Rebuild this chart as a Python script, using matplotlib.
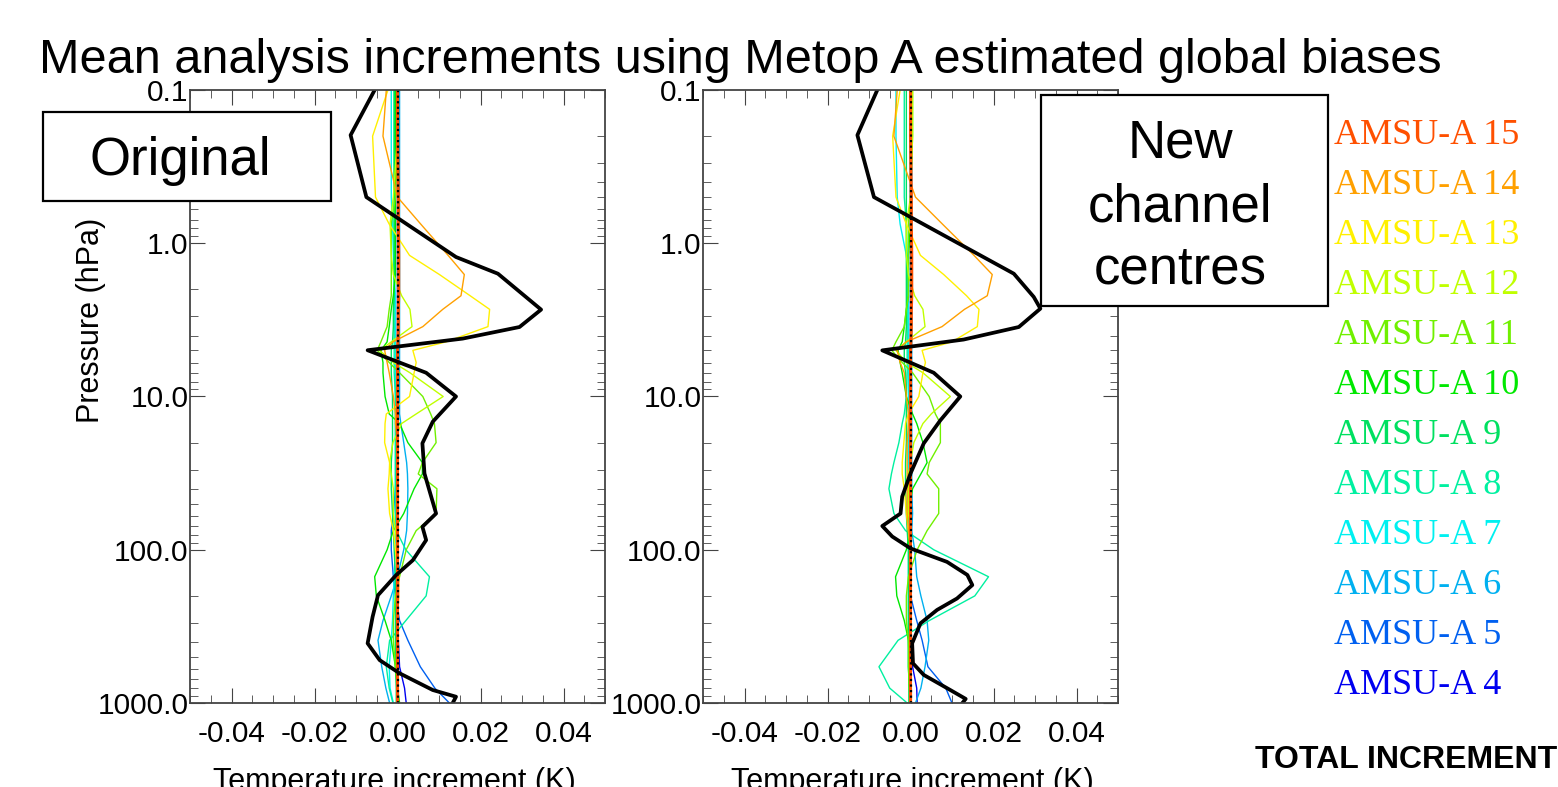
import matplotlib.pyplot as plt
from matplotlib.patches import Rectangle
from matplotlib.ticker import MultipleLocator, LogLocator, NullFormatter

plt.rcParams['font.family'] = ['Liberation Sans', 'DejaVu Sans']
plt.rcParams['axes.unicode_minus'] = False

W, H = 1558, 787

# pressure levels (hPa) of the per-channel curves
p_levels = [0.1, 0.2, 0.5, 0.75, 1.2, 1.6, 2.2, 2.7, 3.5, 4.4, 5.0, 6.0, 7.0, 10, 13, 15,
            20, 27, 32, 40, 58, 75, 100, 150, 200, 290, 390, 580, 800, 1000]

channels = [15, 14, 13, 12, 11, 10, 9, 8, 7, 6, 5, 4]
colors = {15: '#ff5000', 14: '#ffa000', 13: '#fff000', 12: '#c0ff00', 11: '#70f000',
          10: '#00e800', 9: '#00e060', 8: '#00f0a0', 7: '#00f0f0', 6: '#00b0f0',
          5: '#0060f0', 4: '#0000f0'}

# increments in mK, original biases
orig_inc = {
    15: [0, 0, 0.2, 0.2, 0.3, 0.3, 0.3, 0.2, 0.2, 0.1, 0, 0, 0, 0, 0, 0, 0, 0, 0, 0, 0, 0, 0, 0, 0, 0, 0, 0, 0, 0],
    14: [-2.7, -3.5, 0.0, 5.6, 12.2, 16.1, 15.3, 10.9, 6.1, -1.1, -3.1, -2.5, -2.0, -1.0, -0.5, -0.5, 0, 0, 0, 0, 0, 0, 0, 0.3, 0.3, 0, 0, 0, 0, 0],
    13: [-2.3, -6.0, -5.3, -2.0, 2.9, 10.1, 17.5, 22.2, 21.8, 11.7, 3.7, 4.5, 4.0, 2.9, -2.7, -3.0, -3.1, -1.9, -2.0, -2.3, -1.9, -1.0, -0.5, 0, 0, 0, 0, 0, 0, 0],
    12: [0, 0, -1.0, -1.8, -1.5, -1.0, 1.0, 3.0, 3.5, -1.5, -4.3, -1.0, 3.0, 11.0, 4.5, 1.0, -1.1, -1.9, -1.5, -1.0, -1.0, -0.5, 0, 0, 0, 0, 0, 0, 0, 0],
    11: [0, 0, -0.5, -1.5, -1.5, -1.5, -1.5, -2.0, -2.5, -4.0, -4.9, -2.0, 0.5, 6.1, 8.0, 8.9, 9.3, 6.0, 5.0, 9.5, 9.3, 4.5, 2.1, 0.5, -0.5, -1.0, -1.0, -0.5, 0, 0],
    10: [-0.5, -0.5, -0.5, -0.5, -0.5, -0.5, -1.0, -1.5, -2.0, -2.5, -4.0, -3.5, -3.5, -3.0, -2.0, 0.5, 2.5, 6.0, 6.0, 4.0, 1.5, -1.0, -2.5, -5.5, -5.1, -3.0, -1.5, -0.5, 0, 0.5],
    9: [-0.8, -0.8, -0.8, -0.8, -0.8, -0.8, -0.8, -1.0, -1.0, -1.2, -1.5, -1.5, -1.5, -1.2, -1.2, -1.2, -1.2, -1.5, -1.5, -1.5, -1.2, -1.0, -0.8, -0.5, -0.5, -0.5, -0.5, -0.5, -0.3, -0.3],
    8: [-0.8, -0.8, -0.8, -0.8, -0.8, -0.8, -0.8, -0.8, -0.8, -0.8, -0.8, -0.8, -0.8, -0.5, -0.5, -0.5, -0.5, -0.5, -0.5, -0.5, -0.5, -0.3, 2.0, 7.7, 6.9, 2.0, -1.9, -2.7, -2.0, -1.1],
    7: [-1.5, -1.5, -1.5, -1.2, -1.0, -0.8, -0.5, -0.5, -0.5, -0.5, -0.5, -0.5, -0.5, -0.5, -0.5, -0.5, -0.5, -0.5, -0.5, -0.5, -0.5, -0.5, -0.5, -0.8, -1.0, -1.2, -1.5, -2.0, -1.8, -1.0],
    6: [0.5, 0.5, 0.5, 0.5, 0.5, 0.5, 0.5, 0.5, 0.5, 0.5, 0.5, 0.5, 0.5, 0.5, 0.5, 0.8, 1.5, 2.2, 2.4, 2.5, 2.4, 2.2, 1.5, 0.0, -1.5, -3.5, -4.7, -3.8, -2.8, -1.9],
    5: [0, 0, 0, 0, 0, 0, 0, 0, 0, 0, 0, 0, 0, 0, 0, 0, 0, 0, -0.3, -0.5, -1.0, -1.5, -1.5, -1.0, -0.5, 0.5, 2.5, 5.5, 9.0, 12.5],
    4: [0, 0, 0, 0, 0, 0, 0, 0, 0, 0, 0, 0, 0, 0, 0, 0, 0, 0, 0, 0, 0, 0, 0, 0, 0, 0, 0.2, 0.5, 1.7, 2.1],
}

# increments in mK, new channel centres
new_inc = {
    15: [0, 0, 0.2, 0.2, 0.3, 0.3, 0.3, 0.2, 0.2, 0.1, 0, 0, 0, 0, 0, 0, 0, 0, 0, 0, 0, 0, 0, 0, 0, 0, 0, 0, 0, 0],
    14: [-3.2, -4.0, 1.2, 7.7, 15.3, 19.7, 18.5, 13.0, 7.6, -1.0, -3.2, -2.5, -1.5, -1.0, -0.5, -0.5, -0.8, -0.8, -0.8, -0.8, -0.8, -0.5, 0, 0, 0, 0, 0, 0, 0, 0],
    13: [-2.5, -4.3, -3.5, -1.0, 2.4, 8.0, 13.5, 16.5, 16.1, 10.0, 2.8, 3.6, 3.0, 2.0, -0.5, -1.2, -1.6, -2.0, -2.0, -1.5, -1.0, -0.5, 0, 0, 0, 0, 0, 0, 0, 0],
    12: [0.5, 0.5, 0, -1.0, -1.0, -0.5, 1.0, 3.0, 3.5, -1.0, -3.5, -1.0, 3.0, 9.6, 5.0, 3.0, 0.8, 0, -0.5, -0.5, -0.5, 0, 0, 0, 0, 0, 0, 0, 0, 0],
    11: [0.5, 0.5, 0, -0.5, -0.5, -0.5, -0.5, -1.0, -1.5, -3.5, -4.5, -2.0, 0.5, 4.5, 6.0, 7.2, 7.2, 4.5, 4.0, 6.8, 6.8, 4.0, 1.6, -0.5, -1.0, -1.0, -0.5, -0.5, -0.3, 0],
    10: [0, 0, 0, 0, -0.5, -0.5, -0.5, -1.0, -1.5, -2.0, -3.0, -2.5, -2.0, -1.0, 0.5, 1.5, 3.0, 4.0, 2.5, 0.5, -0.5, 0, -1.0, -3.6, -3.3, -1.5, -0.5, -0.3, -0.3, -0.3],
    9: [-1.0, -1.0, -1.0, -1.0, -1.0, -1.0, -1.0, -1.0, -1.0, -1.2, -1.5, -1.5, -1.2, -1.0, -1.0, -1.0, -1.0, -1.2, -1.2, -1.2, -1.0, -0.8, -0.5, -0.5, -0.5, -0.5, -0.5, -0.5, -0.3, -0.3],
    8: [-1.5, -1.5, -1.5, -1.0, -0.8, -0.8, -0.8, -0.8, -0.8, -0.8, -0.8, -0.8, -0.8, -1.0, -1.5, -2.0, -2.8, -4.0, -4.6, -5.2, -4.0, -1.2, 5.6, 18.8, 15.5, 4.5, -3.0, -7.6, -5.0, -0.8],
    7: [-3.5, -3.5, -3.2, -2.5, -1.0, -0.5, -0.5, -0.5, -0.5, -0.5, -0.5, -0.5, -0.5, -0.5, -0.5, -0.5, -0.5, -0.5, -0.5, -0.5, -0.5, -0.5, -0.5, -0.5, -0.5, -0.5, -0.5, -0.5, -0.3, -0.3],
    6: [0.3, 0.3, 0.3, 0.3, 0.3, 0.3, 0.3, 0.3, 0.3, 0.3, 0.3, 0.3, 0.3, 0.3, 0.3, 0.3, 0.3, 0.3, 0.3, 0.3, 0.5, 0.3, 1.0, 1.5, 2.5, 4.0, 4.4, 3.5, 2.5, 1.2],
    5: [0, 0, 0, 0, 0, 0, 0, 0, 0, 0, 0, 0, 0, 0, 0, 0, 0, 0, 0, 0, 0, 0, 0, -0.3, 0, 1.5, 2.8, 4.2, 8.5, 10.0],
    4: [0, 0, 0, 0, 0, 0, 0, 0, 0, 0, 0, 0, 0, 0, 0, 0, 0, 0, 0, 0, 0, 0, 0, 0, 0, 0, 0, 0.5, 1.5, 1.6],
}

# total increment (mK)
orig_total_p = [0.1, 0.197, 0.5, 1.23, 1.58, 2.71, 3.52, 4.19, 4.99, 7.0, 10.0, 14.6, 20.2, 31.8,
                58, 70.8, 86.5, 117, 146, 198, 274, 408, 525, 640, 823, 910, 1000]
orig_total = [-5.5, -11.3, -7.5, 14.1, 24.2, 34.6, 29.4, 15.7, -7.2, 6.9, 14.1, 8.5, 6.0, 6.5,
              9.3, 6.0, 6.9, 3.7, -0.3, -4.7, -6.0, -7.2, -4.3, 0.5, 8.5, 14.1, 13.3]
new_total_p = [0.1, 0.197, 0.5, 1.58, 2.24, 2.67, 3.52, 4.25, 5.0, 7.0, 10.0, 14.3, 20.2, 31.8, 45,
               58, 70, 82, 98, 120, 146, 170, 208, 247, 302, 408, 551, 656, 823, 940, 1000]
new_total = [-8.0, -12.8, -8.8, 24.9, 29.7, 31.3, 26.1, 12.8, -6.8, 5.6, 12.0, 7.2, 3.2, 0.0, -2.0,
             -2.4, -6.8, -4.4, 0.0, 8.8, 13.7, 14.9, 11.2, 6.4, 2.4, 0.4, 0.6, 3.2, 9.6, 13.3, 12.5]

x_ticks = [-0.04, -0.02, 0.0, 0.02, 0.04]
y_ticks = [0.1, 1, 10, 100, 1000]
y_ticklabels = ['0.1', '1.0', '10.0', '100.0', '1000.0']


def fx(x):
    return x / W


def fy(y):
    return 1 - y / H


fig = plt.figure(figsize=(W / 100, H / 100), dpi=100)


def panel(left_px, inc, tot_p, tot):
    ax = fig.add_axes([fx(left_px), fy(703), 415 / W, 613 / H])
    for ch in channels[::-1]:
        if ch == 15:
            continue
        ax.plot([v / 1000 for v in inc[ch]], p_levels, color=colors[ch], lw=1.0)
    ax.plot([v / 1000 for v in inc[15]], p_levels, color=colors[15], lw=2.2)
    ax.plot([0, 0], [0.1, 1000], color='black', lw=1.6, ls=(0, (1, 1.5)))
    ax.plot([v / 1000 for v in tot], tot_p, color='black', lw=2.7)
    ax.set_yscale('log')
    ax.set_xlim(-0.05, 0.05)
    ax.set_ylim(1000, 0.1)
    ax.set_xticks(x_ticks)
    ax.set_xticklabels(['%.2f' % t for t in x_ticks])
    ax.xaxis.set_minor_locator(MultipleLocator(0.005))
    ax.set_yticks(y_ticks)
    ax.set_yticklabels(y_ticklabels)
    ax.yaxis.set_minor_locator(LogLocator(base=10, subs=range(2, 10)))
    ax.yaxis.set_minor_formatter(NullFormatter())
    ax.tick_params(which='both', direction='in', top=True, right=True, labelsize=21.5, color='#444444')
    ax.tick_params(axis='x', which='major', length=11, pad=12)
    ax.tick_params(axis='y', which='major', length=11, pad=1)
    ax.tick_params(which='minor', length=6)
    for s in ax.spines.values():
        s.set_color('#444444')
        s.set_linewidth(1.3)
    return ax


ax1 = panel(190, orig_inc, orig_total_p, orig_total)
ax2 = panel(703, new_inc, new_total_p, new_total)

fig.text(fx(740), fy(73), 'Mean analysis increments using Metop A estimated global biases',
         ha='center', va='baseline', fontsize=35)
fig.text(fx(91), fy(320), 'Pressure (hPa)', rotation=90, ha='center', va='center', fontsize=22)
fig.text(fx(394), fy(790), 'Temperature increment (K)', ha='center', va='baseline', fontsize=22)
fig.text(fx(912), fy(790), 'Temperature increment (K)', ha='center', va='baseline', fontsize=22)

# label boxes
fig.add_artist(Rectangle((fx(43), fy(201)), 288 / W, 89 / H, transform=fig.transFigure,
                         facecolor='white', edgecolor='black', lw=1.6, zorder=5))
fig.text(fx(180), fy(175), 'Original', ha='center', va='baseline', fontsize=38, zorder=6)
fig.add_artist(Rectangle((fx(1041), fy(306)), 287 / W, 211 / H, transform=fig.transFigure,
                         facecolor='white', edgecolor='black', lw=1.6, zorder=5))
for line, base in zip(['New', 'channel', 'centres'], [158, 222, 283]):
    fig.text(fx(1180), fy(base), line, ha='center', va='baseline', fontsize=38, zorder=6)

# channel legend
for i, ch in enumerate(channels):
    fig.text(fx(1334), fy(144 + 50 * i), 'AMSU-A %d' % ch, color=colors[ch],
             family=['Liberation Serif', 'DejaVu Serif'], fontsize=26, ha='left', va='baseline')

fig.text(fx(1255), fy(768), 'TOTAL INCREMENT', fontsize=23, fontweight='bold',
         ha='left', va='baseline')

fig.savefig('out.png', dpi=100)
